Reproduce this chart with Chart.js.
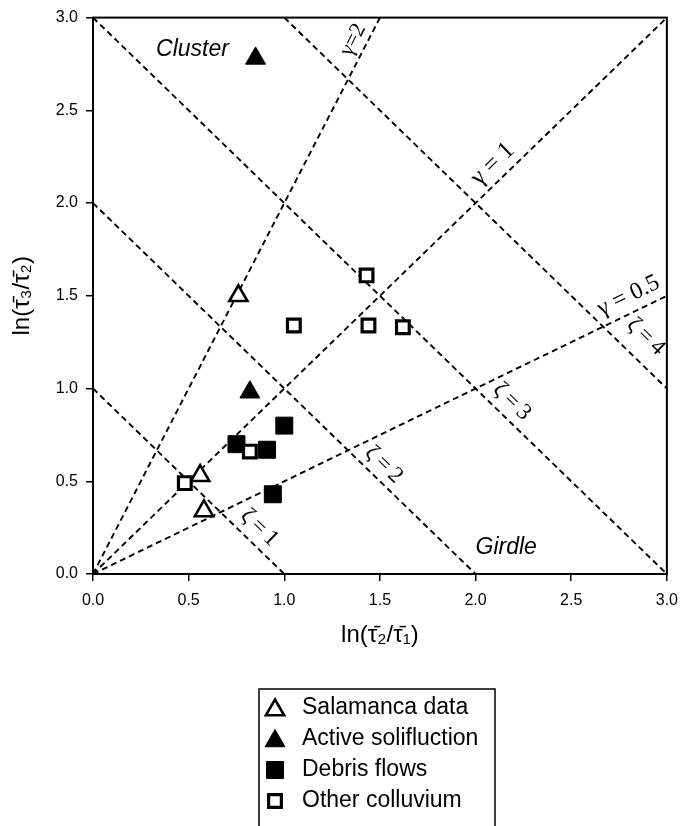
<!DOCTYPE html>
<html>
<head>
<meta charset="utf-8">
<script src="https://cdn.jsdelivr.net/npm/chart.js@4.4.0/dist/chart.umd.min.js"></script>
<style>
  html, body { margin: 0; padding: 0; background: #fff; }
  canvas { display: block; }
</style>
</head>
<body>
<canvas id="grafico" width="688" height="826"></canvas>
<script>
// pontos (x = ln(t2/t1), y = ln(t3/t2))
const salamancaX = [0.76, 0.56, 0.58];
const salamancaY = [1.50, 0.53, 0.34];
const solifluctionX = [0.85, 0.82];
const solifluctionY = [2.78, 0.98];
const debrisX = [1.00, 0.75, 0.91, 0.94];
const debrisY = [0.80, 0.70, 0.67, 0.43];
const colluviumX = [1.43, 1.05, 1.44, 1.62, 0.82, 0.48];
const colluviumY = [1.61, 1.34, 1.34, 1.33, 0.66, 0.49];

// linhas de referencia: y = gamma * x  e  x + y = zeta
const gammaValues = [2, 1, 0.5];
const zetaValues = [1, 2, 3, 4];

const axisTicks = [0, 0.5, 1, 1.5, 2, 2.5, 3];
const legendLabels = ['Salamanca data', 'Active solifluction', 'Debris flows', 'Other colluvium'];

const AXIS_MAX = 3;
const sansFont = "'Liberation Sans', Arial, sans-serif";
const serifFont = "'Liberation Serif', 'Times New Roman', serif";

function pares(xs, ys) {
  return xs.map((x, i) => ({ x: x, y: ys[i] }));
}

// linhas tracejadas cortadas no quadro 0..3
function linhaGamma(g) {
  return [{ x: 0, y: 0 }, { x: Math.min(AXIS_MAX, AXIS_MAX / g), y: Math.min(AXIS_MAX, AXIS_MAX * g) }];
}
function linhaZeta(z) {
  return [
    { x: Math.max(0, z - AXIS_MAX), y: Math.min(AXIS_MAX, z) },
    { x: Math.min(AXIS_MAX, z), y: Math.max(0, z - AXIS_MAX) }
  ];
}

const dashed = {
  showLine: true,
  borderColor: '#000',
  borderWidth: 1.9,
  borderDash: [6, 4],
  pointRadius: 0,
  fill: false,
  order: 5
};

const datasets = [
  {
    label: legendLabels[0],
    data: pares(salamancaX, salamancaY),
    pointStyle: 'triangle', pointRadius: 10.5, pointHoverRadius: 10.5,
    backgroundColor: '#fff', borderColor: '#000', borderWidth: 2.6, order: 1
  },
  {
    label: legendLabels[1],
    data: pares(solifluctionX, solifluctionY),
    pointStyle: 'triangle', pointRadius: 11.5, pointHoverRadius: 11.5,
    backgroundColor: '#000', borderColor: '#000', borderWidth: 1, order: 1
  },
  {
    label: legendLabels[2],
    data: pares(debrisX, debrisY),
    pointStyle: 'rect', pointRadius: 12, pointHoverRadius: 12,
    backgroundColor: '#000', borderColor: '#000', borderWidth: 1, order: 1
  },
  {
    label: legendLabels[3],
    data: pares(colluviumX, colluviumY),
    pointStyle: 'rect', pointRadius: 9, pointHoverRadius: 9,
    backgroundColor: '#fff', borderColor: '#000', borderWidth: 3.2, order: 0
  }
];

gammaValues.forEach(g => datasets.push(Object.assign({ label: 'gamma ' + g, data: linhaGamma(g) }, dashed)));
zetaValues.forEach(z => datasets.push(Object.assign({ label: 'zeta ' + z, data: linhaZeta(z) }, dashed)));

// textos dentro do grafico (posicao em unidades dos eixos)
const anotacoes = [
  { text: 'Cluster', x: 0.52, y: 2.83, font: 'italic 23px ' + sansFont },
  { text: 'Girdle', x: 2.16, y: 0.14, font: 'italic 23px ' + sansFont },
  { text: 'γ=2', x: 1.36, y: 2.88, font: '22px ' + serifFont, gamma: 2 },
  { text: 'γ = 1', x: 2.09, y: 2.21, font: '25px ' + serifFont, gamma: 1 },
  { text: 'γ = 0.5', x: 2.80, y: 1.50, font: '24px ' + serifFont, gamma: 0.5 },
  { text: 'ζ\u2009=\u20094', x: 2.89, y: 1.28, font: '23px ' + serifFont, zeta: true },
  { text: 'ζ\u2009=\u20093', x: 2.19, y: 0.93, font: '23px ' + serifFont, zeta: true },
  { text: 'ζ\u2009=\u20092', x: 1.52, y: 0.59, font: '23px ' + serifFont, zeta: true },
  { text: 'ζ\u2009=\u20091', x: 0.87, y: 0.25, font: '23px ' + serifFont, zeta: true }
];

const extrasPlugin = {
  id: 'extras',
  afterDatasetsDraw(chart) {
    const ctx = chart.ctx;
    const area = chart.chartArea;
    const xs = chart.scales.x;
    const ys = chart.scales.y;
    const pxX = xs.getPixelForValue(1) - xs.getPixelForValue(0);
    const pxY = ys.getPixelForValue(0) - ys.getPixelForValue(1);

    ctx.save();
    // moldura do grafico
    ctx.setLineDash([]);
    ctx.strokeStyle = '#000';
    ctx.lineWidth = 2;
    ctx.strokeRect(area.left, area.top, area.right - area.left, area.bottom - area.top);

    // rotulos
    ctx.fillStyle = '#000';
    ctx.textAlign = 'center';
    ctx.textBaseline = 'middle';
    anotacoes.forEach(a => {
      let ang = 0;
      if (a.gamma) ang = -Math.atan2(a.gamma * pxY, pxX);
      if (a.zeta) ang = Math.atan2(pxY, pxX);
      ctx.save();
      ctx.translate(xs.getPixelForValue(a.x), ys.getPixelForValue(a.y));
      ctx.rotate(ang);
      ctx.font = a.font;
      ctx.fillText(a.text, 0, 0);
      ctx.restore();
    });
    ctx.restore();
  },
  afterDraw(chart) {
    // legenda em caixa, uma linha por serie
    const ctx = chart.ctx;
    const boxLeft = 259, boxTop = 689, boxW = 236, rowH = 31, firstRow = 708;
    ctx.save();
    ctx.setLineDash([]);
    ctx.strokeStyle = '#000';
    ctx.lineWidth = 1.5;
    ctx.strokeRect(boxLeft, boxTop, boxW, 160);
    ctx.font = '23px ' + sansFont;
    ctx.textAlign = 'left';
    ctx.textBaseline = 'middle';
    legendLabels.forEach((lbl, i) => {
      const ds = chart.data.datasets[i];
      const y = firstRow + i * rowH;
      ctx.fillStyle = ds.backgroundColor;
      ctx.strokeStyle = ds.borderColor;
      ctx.lineWidth = ds.borderWidth;
      const cy = ds.pointStyle === 'triangle' ? y + 2 : y;
      Chart.helpers.drawPoint(ctx, { pointStyle: ds.pointStyle, radius: ds.pointRadius, rotation: 0, borderWidth: ds.borderWidth }, 275, cy);
      ctx.fillStyle = '#000';
      ctx.fillText(lbl, 302, y);
    });
    ctx.restore();
  }
};

const tickFont = { family: sansFont, size: 16 };

new Chart(document.getElementById('grafico'), {
  type: 'scatter',
  data: { datasets: datasets },
  options: {
    responsive: false,
    animation: false,
    events: [],
    layout: { padding: { left: 0, right: 20, top: 13, bottom: 176 } },
    plugins: {
      legend: { display: false },
      tooltip: { enabled: false }
    },
    scales: {
      x: {
        type: 'linear',
        min: 0,
        max: AXIS_MAX,
        afterBuildTicks: s => { s.ticks = axisTicks.map(v => ({ value: v })); },
        afterFit: s => { s.height = 76; },
        ticks: { color: '#000', font: tickFont, padding: 10, maxRotation: 0, callback: v => Number(v).toFixed(1) },
        grid: { display: true, drawOnChartArea: false, drawTicks: true, tickLength: 7, color: '#000', lineWidth: 1.5 },
        border: { display: true, color: '#000', width: 2 },
        title: { display: true, text: 'ln(τ\u0304\u2082/τ\u0304\u2081)', color: '#000', font: { family: sansFont, size: 24 }, padding: { top: 0, bottom: 0 } }
      },
      y: {
        type: 'linear',
        min: 0,
        max: AXIS_MAX,
        afterBuildTicks: s => { s.ticks = axisTicks.map(v => ({ value: v })); },
        afterFit: s => { s.width = 93; },
        ticks: { color: '#000', font: tickFont, padding: 8, callback: v => Number(v).toFixed(1) },
        grid: { display: true, drawOnChartArea: false, drawTicks: true, tickLength: 7, color: '#000', lineWidth: 1.5 },
        border: { display: true, color: '#000', width: 2 },
        title: { display: true, text: 'ln(τ\u0304\u2083/τ\u0304\u2082)', color: '#000', font: { family: sansFont, size: 24 }, padding: { top: 8, bottom: 0 } }
      }
    }
  },
  plugins: [extrasPlugin]
});
</script>
</body>
</html>
